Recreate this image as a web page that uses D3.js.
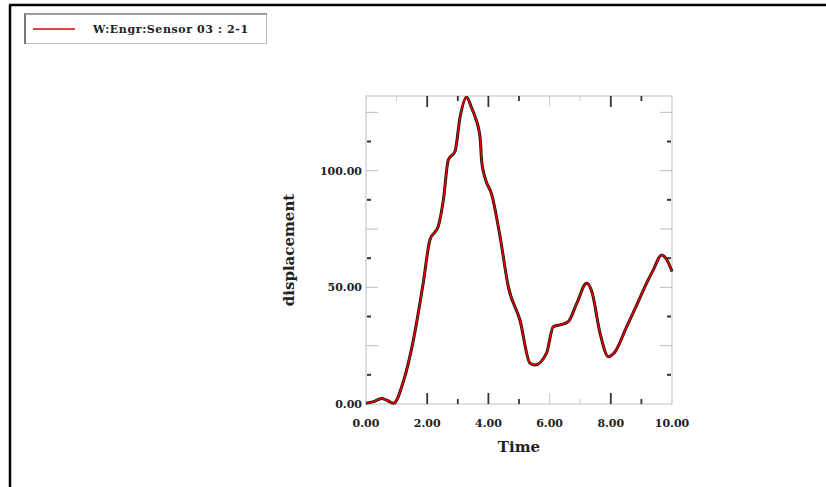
<!DOCTYPE html>
<html>
<head>
<meta charset="utf-8">
<script src="https://cdn.jsdelivr.net/npm/d3@7"></script>
<style>
  body { margin: 0; background: #fff; }
  svg { display: block; }
  .tick-label { font-family: "DejaVu Serif", serif; font-size: 11px; font-weight: bold; fill: #222; }
  .axis-title { font-family: "DejaVu Serif", serif; font-size: 15px; font-weight: bold; fill: #222; }
</style>
</head>
<body>
<div id="chart"></div>
<script>
// series: time (s) vs displacement
var times = [0, 0.25, 0.51, 0.7, 0.9, 1.22, 1.55, 1.87, 2.09, 2.36, 2.53, 2.69, 2.91, 3.07, 3.29, 3.45,
  3.56, 3.73, 3.78, 3.89, 4.11, 4.38, 4.65, 5.03, 5.36, 5.52, 5.9, 6.12, 6.34, 6.61, 6.89, 7.21,
  7.38, 7.65, 7.92, 8.14, 8.52, 8.85, 9.17, 9.39, 9.66, 9.83, 10.0];
var displacement = [0.3, 1.0, 2.4, 1.5, 0.3, 9.6, 27.5, 51.8, 70.4, 76.1, 87.6, 104.7, 108.3, 122.6, 131.5, 126.9,
  123.3, 114, 104, 96.9, 89.7, 71.8, 50.3, 36, 17.5, 16.7, 21.8, 33.2, 33.9, 35.3, 43.2, 51.8,
  48.2, 30.3, 20.3, 22.4, 33.2, 42.5, 51.8, 57.5, 63.9, 61.8, 56.8];
var xTicks = [0, 2, 4, 6, 8, 10];
var yTicks = [0, 50, 100];
var legendLabel = "W:Engr:Sensor 03 :  2-1";

(function () {
  var W = 826, H = 487;
  var svg = d3.select("#chart").append("svg").attr("width", W).attr("height", H);

  // outer frame (top and left only)
  svg.append("line").attr("x1", 9).attr("x2", W).attr("y1", 5).attr("y2", 5)
    .attr("stroke", "#000").attr("stroke-width", 2.5);
  svg.append("line").attr("x1", 10).attr("x2", 10).attr("y1", 5).attr("y2", H)
    .attr("stroke", "#000").attr("stroke-width", 2.5);

  // legend
  var lg = svg.append("g");
  lg.append("rect").attr("x", 24.5).attr("y", 13.5).attr("width", 242).attr("height", 30)
    .attr("fill", "#fff").attr("stroke", "#bbb");
  lg.append("line").attr("x1", 25).attr("x2", 25).attr("y1", 13).attr("y2", 44).attr("stroke", "#777").attr("stroke-width", 2);
  lg.append("line").attr("x1", 24).attr("x2", 267).attr("y1", 14).attr("y2", 14).attr("stroke", "#888").attr("stroke-width", 1.5);
  lg.append("line").attr("x1", 33).attr("x2", 75).attr("y1", 29).attr("y2", 29)
    .attr("stroke", "#e00000").attr("stroke-width", 1.5);
  lg.append("text").attr("x", 93).attr("y", 33).attr("class", "tick-label")
    .style("font-size", "11px").style("letter-spacing", "0.6px").text(legendLabel);

  // plot area
  var pLeft = 366, pRight = 672, pTop = 96, pBottom = 404;
  var x = d3.scaleLinear().domain([0, 10]).range([pLeft, pRight]);
  var y = d3.scaleLinear().domain([0, 132]).range([pBottom, pTop]);

  var frame = svg.append("g");
  frame.append("rect").attr("x", pLeft).attr("y", pTop).attr("width", pRight - pLeft).attr("height", pBottom - pTop)
    .attr("fill", "none").attr("stroke", "#d4d4d4").attr("stroke-width", 1.5);

  // y ticks (both sides, inward)
  d3.range(25, 132, 25).forEach(function (v) {
    [[pLeft, 1], [pRight, -1]].forEach(function (s) {
      frame.append("line").attr("x1", s[0]).attr("x2", s[0] + s[1] * 12)
        .attr("y1", y(v)).attr("y2", y(v)).attr("stroke", "#bbb");
    });
  });
  d3.range(12.5, 132, 25).forEach(function (v) {
    [[pLeft, 1], [pRight, -1]].forEach(function (s) {
      frame.append("line").attr("x1", s[0] + s[1] * 1).attr("x2", s[0] + s[1] * 5)
        .attr("y1", y(v)).attr("y2", y(v)).attr("stroke", "#333").attr("stroke-width", 2);
    });
  });
  // x ticks (top and bottom, inward)
  d3.range(1, 10).forEach(function (t) {
    var len = t % 2 === 0 ? 11 : 5;
    var dark = [2, 3, 4, 5, 8, 9].indexOf(t) >= 0;
    [[pBottom, -1], [pTop, 1]].forEach(function (s) {
      frame.append("line").attr("x1", x(t)).attr("x2", x(t))
        .attr("y1", s[0]).attr("y2", s[0] + s[1] * len)
        .attr("stroke", dark ? "#333" : "#ccc").attr("stroke-width", dark ? 1.8 : 1);
    });
  });

  // tick labels
  svg.selectAll(".xl").data(xTicks).enter().append("text").attr("class", "tick-label")
    .attr("x", d => x(d)).attr("y", pBottom + 23).attr("text-anchor", "middle")
    .text(d => d.toFixed(2));
  svg.selectAll(".yl").data(yTicks).enter().append("text").attr("class", "tick-label")
    .attr("x", pLeft - 4).attr("y", d => y(d) + 4).attr("text-anchor", "end")
    .text(d => d.toFixed(2));

  // axis titles
  svg.append("text").attr("class", "axis-title").attr("x", 519).attr("y", 452)
    .attr("text-anchor", "middle").text("Time");
  svg.append("text").attr("class", "axis-title")
    .attr("transform", "translate(294,250) rotate(-90)")
    .attr("text-anchor", "middle").text("displacement");

  // curves
  var pts = times.map(function (t, i) { return [t, displacement[i]]; });
  var line = d3.line().x(d => x(d[0])).y(d => y(d[1])).curve(d3.curveMonotoneX);
  svg.append("path").datum(pts).attr("d", line).attr("fill", "none")
    .attr("stroke", "#111").attr("stroke-width", 3);
  svg.append("path").datum(pts).attr("d", line).attr("fill", "none")
    .attr("stroke", "#ee0000").attr("stroke-width", 1.5);
})();
</script>
</body>
</html>
